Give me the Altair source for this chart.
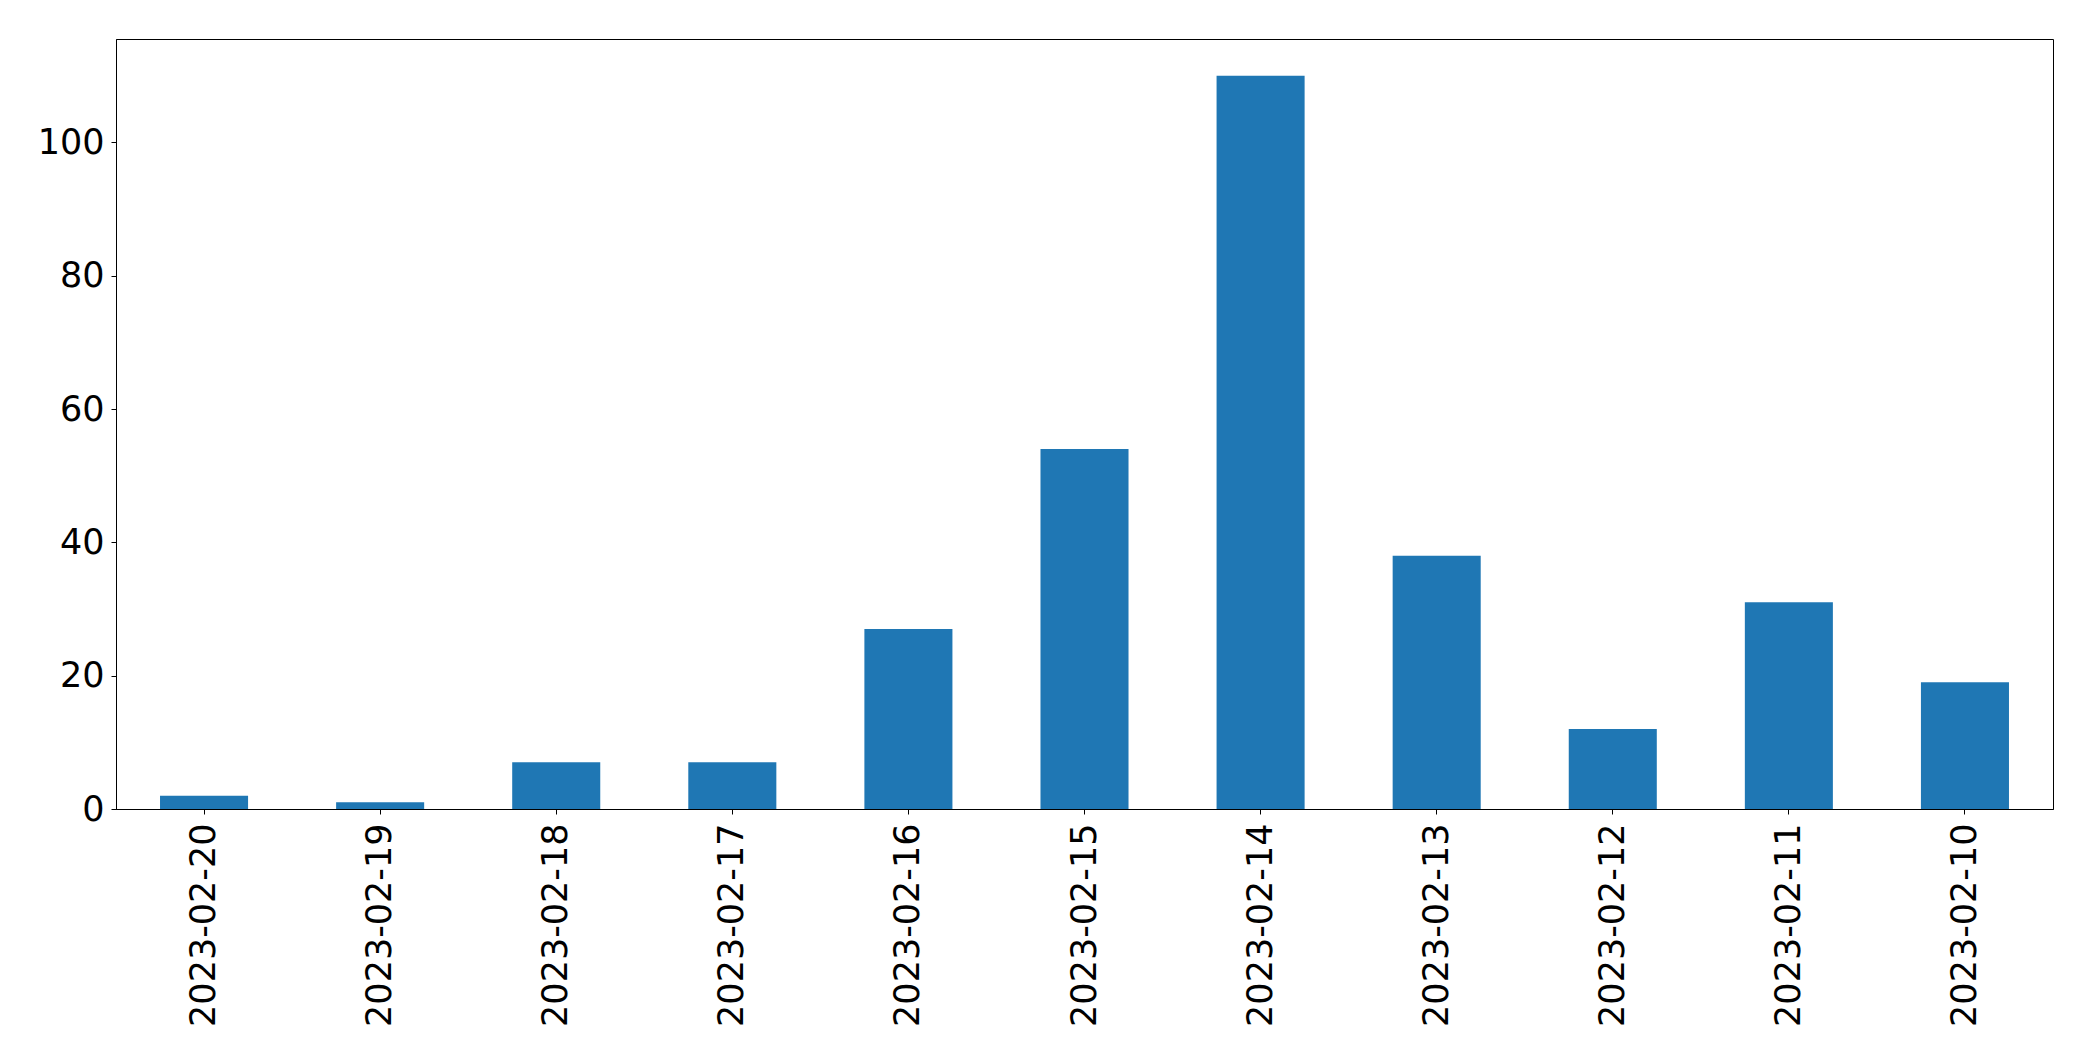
import altair as alt
import pandas as pd

dates = ["2023-02-20", "2023-02-19", "2023-02-18", "2023-02-17", "2023-02-16",
         "2023-02-15", "2023-02-14", "2023-02-13", "2023-02-12", "2023-02-11",
         "2023-02-10"]
counts = [2, 1, 7, 7, 27, 54, 110, 38, 12, 31, 19]
y_ticks = [0, 20, 40, 60, 80, 100]

df = pd.DataFrame({"date": dates, "count": counts})

font = "DejaVu Sans"

chart = alt.Chart(df).mark_bar(color="#1f77b4").encode(
    x=alt.X("date:N", sort=None, title=None,
            scale=alt.Scale(paddingInner=0.5, paddingOuter=0.25),
            axis=alt.Axis(labelAngle=-90, labelFontSize=35, labelFont=font,
                          labelColor="black", tickColor="black", tickSize=5,
                          domainColor="black", labelPadding=9, labelAlign="right",
                          labelBaseline="middle", labelLimit=0, labelOverlap=False)),
    y=alt.Y("count:Q", title=None,
            scale=alt.Scale(domain=[0, 115.5], nice=False, zero=True),
            axis=alt.Axis(values=y_ticks, labelFontSize=35, labelFont=font,
                          labelColor="black", tickColor="black", tickSize=5,
                          domainColor="black", labelPadding=7, grid=False)),
).properties(
    width=1937, height=770,
    autosize=alt.AutoSizeParams(type="none"),
    padding={"left": 108, "top": 31, "right": 30, "bottom": 240},
).configure_view(
    stroke="black", strokeWidth=1
).configure_axis(grid=False)

chart.save("out.html", embed_options={"renderer": "svg", "actions": False})
